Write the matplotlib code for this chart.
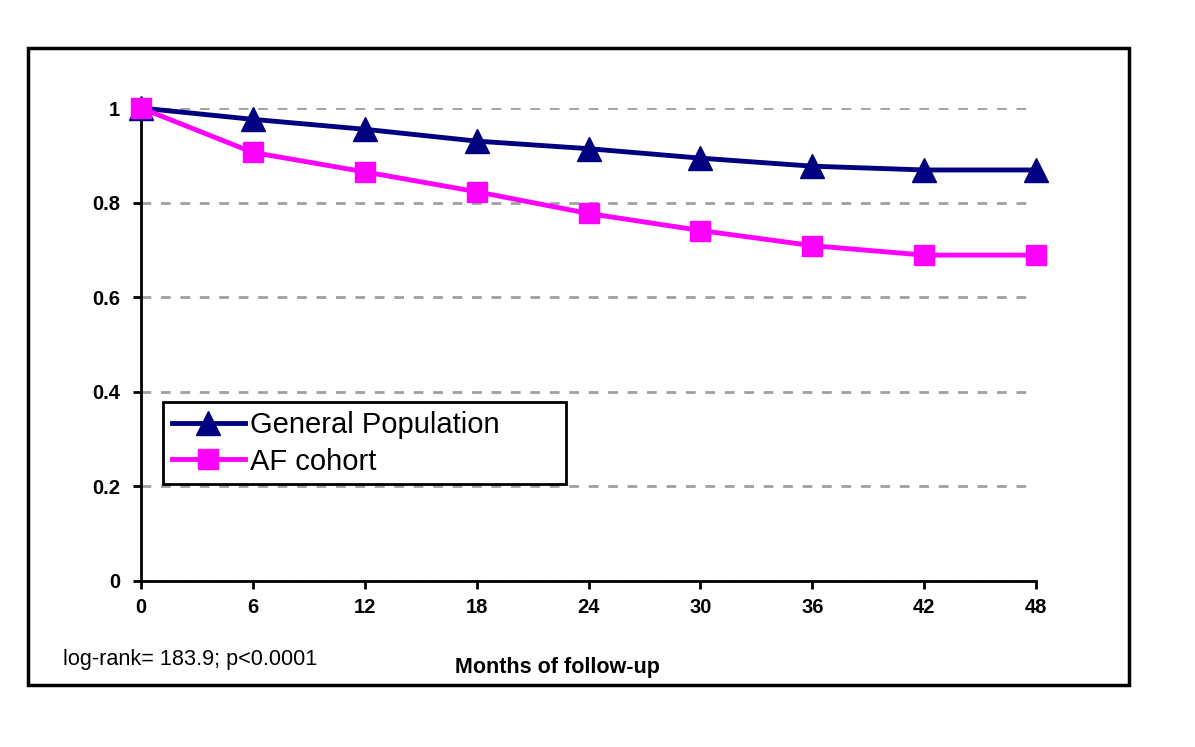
import matplotlib.pyplot as plt
from matplotlib.patches import Rectangle

months = [0, 6, 12, 18, 24, 30, 36, 42, 48]
general_pop = [1.0, 0.976, 0.955, 0.930, 0.914, 0.894, 0.877, 0.869, 0.869]
af_cohort = [1.0, 0.906, 0.865, 0.823, 0.777, 0.741, 0.709, 0.689, 0.689]
yticks = [0, 0.2, 0.4, 0.6, 0.8, 1]
ytick_labels = ['0', '0.2', '0.4', '0.6', '0.8', '1']

plt.rcParams['font.family'] = ['Liberation Sans', 'DejaVu Sans']

fig = plt.figure(figsize=(11.95, 7.47), dpi=100)
ax = fig.add_axes([141 / 1195, 1 - 581 / 747, 895 / 1195, 473 / 747])

ax.plot(months, general_pop, color='#000080', lw=3.5, marker='^', ms=17,
        label='General Population', clip_on=False, zorder=4)
ax.plot(months, af_cohort, color='#FF00FF', lw=3.5, marker='s', ms=14.5,
        label='AF cohort', clip_on=False, zorder=5)

ax.set_xlim(0, 48)
ax.set_ylim(0, 1)
ax.set_xticks(months)
ax.set_xticklabels([str(m) for m in months], fontsize=14.5, fontweight='bold')
ax.set_yticks(yticks)
ax.set_yticklabels(ytick_labels, fontsize=14.5, fontweight='bold')
ax.tick_params(axis='both', direction='out', length=6, width=2, pad=6)
ax.tick_params(axis='y', pad=9)

ax.yaxis.grid(True, color='#A0A0A0', linestyle=(0, (3.5, 3.5)), lw=2)
ax.set_axisbelow(True)

for side in ['top', 'right']:
    ax.spines[side].set_visible(False)
for side in ['left', 'bottom']:
    ax.spines[side].set_linewidth(2)

leg = ax.legend(loc='upper left', bbox_to_anchor=(22 / 895, 179 / 473, 403 / 895, 0),
                mode='expand', borderaxespad=0, frameon=True, fancybox=False,
                handlelength=2.5, handletextpad=0.2, borderpad=0.3, labelspacing=0.3,
                prop={'family': ['Liberation Sans'], 'size': 21})
leg.get_frame().set_edgecolor('black')
leg.get_frame().set_linewidth(2)
leg.get_frame().set_alpha(1)

fig.text(557 / 1195, 1 - 667 / 747, 'Months of follow-up', ha='center', va='center',
         fontsize=15.5, fontweight='bold')
fig.text(63 / 1195, 1 - 660 / 747, 'log-rank= 183.9; p<0.0001', ha='left', va='center',
         fontsize=15.6)

fig.patches.append(Rectangle((28 / 1195, 1 - 685 / 747), 1101 / 1195, 637 / 747,
                             transform=fig.transFigure, fill=False, lw=2.5,
                             edgecolor='black'))

fig.savefig('out.png', dpi=100)
